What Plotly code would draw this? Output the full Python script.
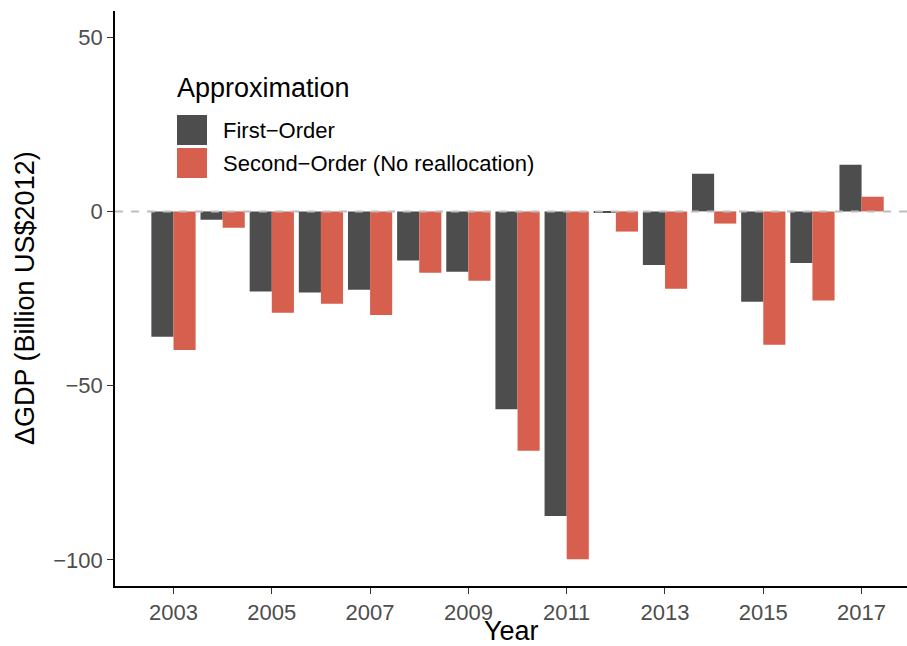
import plotly.graph_objects as go

# Annual change in GDP under two approximations (billion US$ 2012)
years = list(range(2003, 2018))
first_order = [-36.0, -2.4, -23.0, -23.3, -22.5, -14.1, -17.3, -56.8, -87.4,
               -0.4, -15.4, 10.8, -25.9, -14.8, 13.4]
second_order = [-39.8, -4.7, -29.1, -26.5, -29.7, -17.6, -19.9, -68.7, -99.8,
                -5.8, -22.2, -3.5, -38.3, -25.6, 4.2]
series_names = ["First\u2212Order", "Second\u2212Order (No reallocation)"]
series_colors = ["#4D4D4D", "#D65F4E"]
x_ticks = [2003, 2005, 2007, 2009, 2011, 2013, 2015, 2017]
y_ticks = [50, 0, -50, -100]

W, H = 907, 646
ML, MR, MT, MB = 115, 0, 11, 60
PW, PH = W - ML - MR, H - MT - MB
FONT = "Liberation Sans, Arial, Helvetica, sans-serif"


def px_x(p):
    return (p - ML) / PW


def px_y(p):
    return (H - MB - p) / PH


fig = go.Figure()
for name, vals, col in zip(series_names, [first_order, second_order], series_colors):
    fig.add_trace(go.Bar(x=years, y=vals, name=name, marker_color=col,
                         marker_line_width=0, showlegend=False))

fig.update_layout(
    width=W, height=H,
    margin=dict(l=ML, r=MR, t=MT, b=MB, pad=0),
    paper_bgcolor="white", plot_bgcolor="white",
    barmode="group", bargap=0.1, bargroupgap=0,
    font=dict(family=FONT, size=22, color="#4D4D4D"),
    xaxis=dict(range=[2001.81, 2001.81 + PW / 49.15], tickvals=x_ticks,
               ticktext=[str(v) for v in x_ticks], showgrid=False, zeroline=False,
               showline=True, linecolor="black", linewidth=1.6,
               ticks="outside", ticklen=6, tickwidth=1.4, tickcolor="#333333",
               tickfont=dict(size=22, color="#4D4D4D")),
    yaxis=dict(range=[-107.5, 57.5], tickvals=y_ticks, showgrid=False, zeroline=False,
               showline=True, linecolor="black", linewidth=1.6,
               ticks="outside", ticklen=6, tickwidth=1.4, tickcolor="#333333",
               tickfont=dict(size=22, color="#4D4D4D")),
)

# dashed reference line at zero, above the bars
fig.add_shape(type="line", xref="paper", yref="y", x0=0, x1=1, y0=0, y1=0,
              line=dict(color="#BEBEBE", width=2, dash="8px,8px"), layer="above")

# axis titles
fig.add_annotation(text="Year", xref="paper", yref="paper", x=0.5, y=px_y(631),
                   xanchor="center", yanchor="middle", showarrow=False,
                   font=dict(size=27, color="black", family=FONT))
fig.add_annotation(text="\u0394GDP (Billion US$2012)", xref="paper", yref="paper",
                   x=px_x(25), y=px_y(298), xanchor="center", yanchor="middle",
                   textangle=-90, showarrow=False,
                   font=dict(size=27, color="black", family=FONT))

# legend
fig.add_annotation(text="Approximation", xref="paper", yref="paper",
                   x=px_x(175), y=px_y(88), xanchor="left", yanchor="middle",
                   showarrow=False, font=dict(size=27, color="black", family=FONT))
key_tops = [115, 148]
for name, col, top in zip(series_names, series_colors, key_tops):
    fig.add_shape(type="rect", xref="paper", yref="paper",
                  x0=px_x(177), x1=px_x(207), y0=px_y(top + 30), y1=px_y(top),
                  fillcolor=col, line_width=0)
    fig.add_annotation(text=name, xref="paper", yref="paper",
                       x=px_x(221), y=px_y(top + 15), xanchor="left", yanchor="middle",
                       showarrow=False, font=dict(size=22, color="black", family=FONT))

fig.write_html("out.html")
